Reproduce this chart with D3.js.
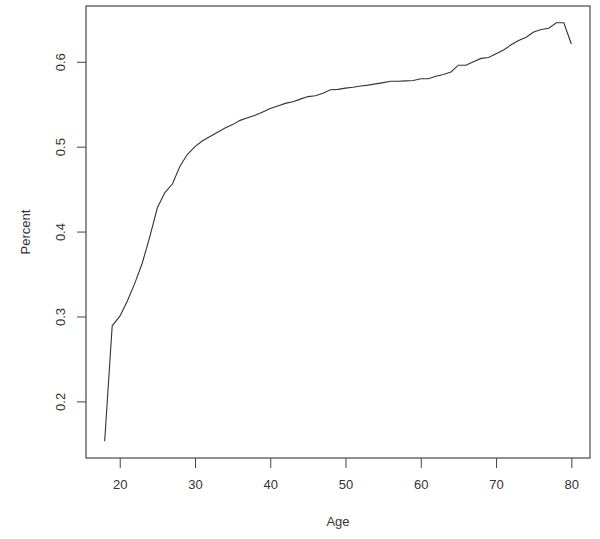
<!DOCTYPE html>
<html>
<head>
<meta charset="utf-8">
<script src="https://cdn.jsdelivr.net/npm/d3@7"></script>
<style>
  body { margin: 0; background: #fff; }
  .axisText { font-family: "Liberation Sans", Arial, sans-serif; font-size: 13px; fill: #333; }
</style>
</head>
<body>
<div class="chart"></div>
<script>
// Ages 18..80 and share (Percent)
const ages = [18, 19, 20, 21, 22, 23, 24, 25, 26, 27, 28, 29, 30,
  31, 32, 33, 34, 35, 36, 37, 38, 39, 40, 41, 42, 43, 44, 45, 46, 47, 48, 49, 50,
  51, 52, 53, 54, 55, 56, 57, 58, 59, 60, 61, 62, 63, 64, 65, 66, 67, 68, 69, 70,
  71, 72, 73, 74, 75, 76, 77, 78, 79, 80]
const percent = [0.153, 0.289, 0.300, 0.318, 0.339, 0.363, 0.394, 0.428, 0.446, 0.456, 0.477, 0.491, 0.500,
  0.507, 0.512, 0.517, 0.522, 0.526, 0.531, 0.534, 0.537, 0.541, 0.545, 0.548, 0.551, 0.553, 0.556, 0.559, 0.560, 0.563, 0.567, 0.5675, 0.569,
  0.570, 0.5714, 0.5725, 0.574, 0.5755, 0.577, 0.577, 0.5775, 0.578, 0.580, 0.580, 0.583, 0.585, 0.588, 0.596, 0.596, 0.600, 0.604, 0.605, 0.6096,
  0.614, 0.620, 0.625, 0.629, 0.635, 0.638, 0.6396, 0.646, 0.646, 0.621]
const xTicks = [20, 30, 40, 50, 60, 70, 80]
const yTicks = [0.2, 0.3, 0.4, 0.5, 0.6]

const W = 600, H = 539
const box = { left: 86, right: 590, top: 6, bottom: 458 }

const svg = d3.select('.chart')
  .append('svg')
  .attr('width', W)
  .attr('height', H)

// R-style 4% padding around the data range
const pad = (lo, hi) => { const r = hi - lo; return [lo - r * 0.04, hi + r * 0.04] }

const xScale = d3.scaleLinear()
  .domain(pad(d3.min(ages), d3.max(ages)))
  .range([box.left, box.right])

const yScale = d3.scaleLinear()
  .domain(pad(d3.min(percent), d3.max(percent)))
  .range([box.bottom, box.top])

// Plot frame
svg.append('rect')
  .attr('x', box.left)
  .attr('y', box.top)
  .attr('width', box.right - box.left)
  .attr('height', box.bottom - box.top)
  .attr('fill', 'none')
  .attr('stroke', '#222')
  .attr('stroke-width', 1)

// X-axis
const xAxis = d3.axisBottom(xScale)
  .tickValues(xTicks)
  .tickSize(10)
  .tickPadding(8)
  .tickFormat(d3.format('d'))

const gx = svg.append('g')
  .attr('transform', `translate(0, ${box.bottom})`)
  .call(xAxis)
gx.select('.domain').remove()
gx.selectAll('line').attr('stroke', '#444')
gx.selectAll('text').attr('class', 'axisText').attr('dy', '1em')

// Y-axis
const yAxis = d3.axisLeft(yScale)
  .tickValues(yTicks)
  .tickSize(9)
  .tickFormat(d3.format('.1f'))

const gy = svg.append('g')
  .attr('transform', `translate(${box.left}, 0)`)
  .call(yAxis)
gy.select('.domain').remove()
gy.selectAll('line').attr('stroke', '#444')
gy.selectAll('text')
  .attr('class', 'axisText')
  .attr('x', null)
  .attr('dy', null)
  .attr('text-anchor', 'middle')
  .attr('dominant-baseline', 'central')
  .attr('transform', 'translate(-26, 0) rotate(-90)')

// Line
const line = d3.line()
  .x((d, i) => xScale(ages[i]))
  .y(d => yScale(d))

svg.append('path')
  .datum(percent)
  .attr('d', line)
  .attr('fill', 'none')
  .attr('stroke', '#333')
  .attr('stroke-width', 1.1)

// Axis titles
svg.append('text')
  .attr('class', 'axisText')
  .attr('text-anchor', 'middle')
  .attr('dominant-baseline', 'central')
  .attr('transform', `translate(25, ${(box.top + box.bottom) / 2}) rotate(-90)`)
  .text('Percent')

svg.append('text')
  .attr('class', 'axisText')
  .attr('text-anchor', 'middle')
  .attr('dominant-baseline', 'central')
  .attr('x', (box.left + box.right) / 2)
  .attr('y', 521)
  .text('Age')
</script>
</body>
</html>
